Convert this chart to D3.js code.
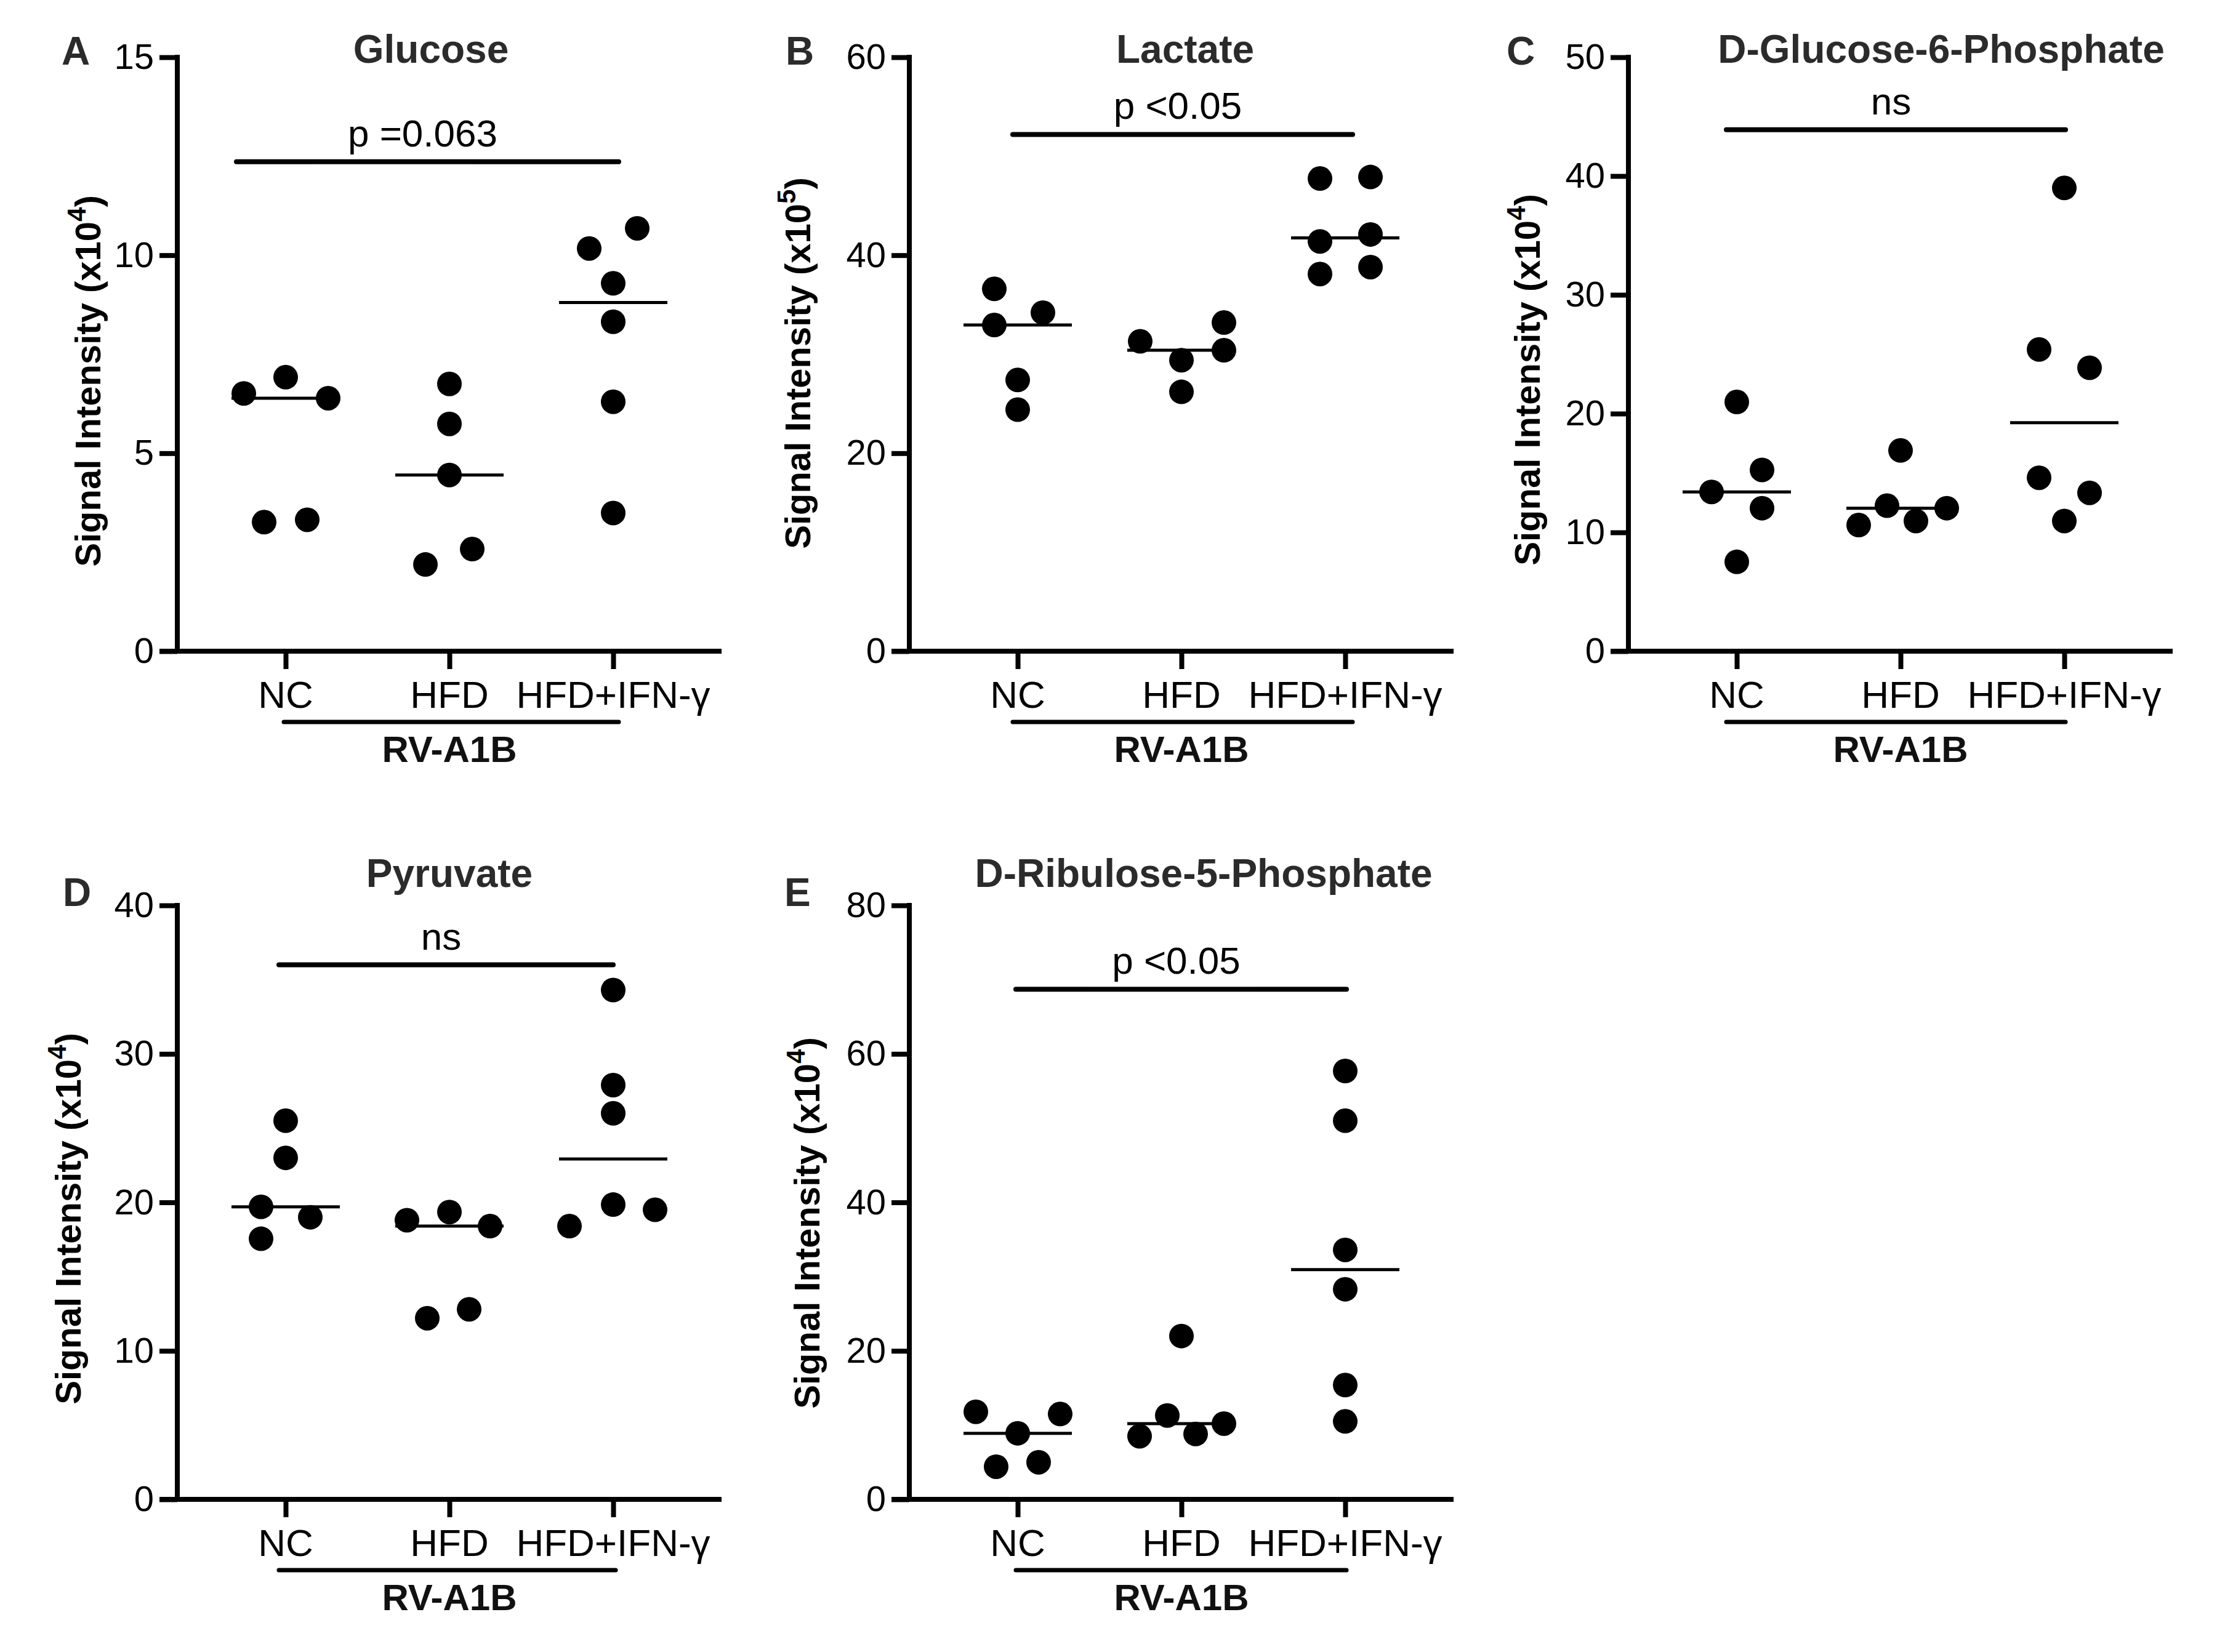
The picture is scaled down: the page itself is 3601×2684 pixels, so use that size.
<!DOCTYPE html>
<html lang="en">
<head>
	<meta charset="utf-8">
	<script src="https://d3js.org/d3.v7.min.js"></script>
	<style>
		body { margin: 0; background: #fff; }
		text { font-family: "Liberation Sans", Arial, sans-serif; }
	</style>
</head>
<body>
	<script type="text/javascript">

		var svgWidth = 3601;
		var svgHeight = 2684;

		// categories and panel texts
		var groups = ["NC", "HFD", "HFD+IFN-γ"];
		var panelLetters = ["A", "B", "C", "D", "E"];
		var panelTitles = ["Glucose", "Lactate", "D-Glucose-6-Phosphate", "Pyruvate", "D-Ribulose-5-Phosphate"];
		var exponents = ["4", "5", "4", "4", "4"];
		var yMax = [15, 60, 50, 40, 80];
		var yTicks = [[0, 5, 10, 15], [0, 20, 40, 60], [0, 10, 20, 30, 40, 50], [0, 10, 20, 30, 40], [0, 20, 40, 60, 80]];
		var sigLabels = ["p =0.063", "p <0.05", "ns", "ns", "p <0.05"];
		var sigLevels = [12.36, 52.2, 43.9, 36.0, 68.7];
		var groupLabel = "RV-A1B";

		// values per group (NC, HFD, HFD+IFN-γ)
		var glucose = [
			[6.51, 6.92, 6.39, 3.26, 3.32],
			[6.75, 5.74, 4.45, 2.58, 2.19],
			[10.17, 10.68, 9.29, 8.32, 6.30, 3.49]
		];
		var lactate = [
			[36.6, 34.2, 32.95, 27.4, 24.4],
			[31.3, 29.4, 33.2, 30.4, 26.2],
			[47.75, 47.9, 41.4, 42.1, 38.1, 38.8]
		];
		var g6p = [
			[20.98, 15.26, 13.41, 12.04, 7.52],
			[16.9, 12.25, 12.04, 10.62, 10.96],
			[39.0, 25.4, 23.86, 14.6, 13.33, 10.96]
		];
		var pyruvate = [
			[25.5, 23.0, 19.7, 19.0, 17.55],
			[19.35, 18.8, 18.4, 12.2, 12.8],
			[34.3, 27.9, 26.0, 19.85, 19.5, 18.4]
		];
		var ribulose = [
			[11.8, 11.5, 8.9, 4.4, 5.0],
			[22.0, 11.3, 10.2, 8.5, 8.8],
			[57.7, 51.0, 33.6, 28.3, 15.4, 10.5]
		];
		var allData = [glucose, lactate, g6p, pyruvate, ribulose];

		// horizontal scatter of the dots (pixels from the group tick)
		var jitter = [
			[[-68, 0, 69, -35, 35], [0, 0, 0, 37, -39], [-39, 39, 0, 0, 0, 0]],
			[[-38, 41, -38, 0, 0], [-67, 0, 69, 69, 0], [-41, 41, -41, 41, -41, 41]],
			[[0, 41, -41, 41, 0], [0, -22, 75, -68, 25], [0, -41, 41, -41, 41, 0]],
			[[0, 0, -40, 40, -40], [0, -69, 66, -36, 32], [0, 0, 0, 0, 68, -71]],
			[[-68, 69, 0, -35, 34], [0, -23, 69, -68, 23], [0, 0, 0, 0, 0, 0]]
		];

		// panel placement
		var layout = [
			{ax: 288, top: 93, letterX: 100, letterY: 105, titleX: 700, titleY: 102, labelX: 143, labelY: 619, sig: [-80, 9], under: [-3, 9]},
			{ax: 1477, top: 93, letterX: 1276, letterY: 105, titleX: 1925, titleY: 102, labelX: 1296, labelY: 590, sig: [-8, 12], under: [-8, 12]},
			{ax: 2645, top: 93, letterX: 2447, letterY: 105, titleX: 3153, titleY: 102, labelX: 2481, labelY: 617, sig: [-17, 2], under: [-17, 2]},
			{ax: 288, top: 1471, letterX: 102, letterY: 1472, titleX: 730, titleY: 1441, labelX: 111, labelY: 1980, sig: [-11, 0], under: [-11, 4]},
			{ax: 1477, top: 1471, letterX: 1274, letterY: 1472, titleX: 1955, titleY: 1441, labelX: 1311, labelY: 1987, sig: [-3, 2], under: [-3, 2]}
		];

		var plotHeight = 965;
		var axisLength = 884;
		var dotRadius = 20;

		var svg = d3.select("body")
			.append("svg")
			.attr("width", svgWidth)
			.attr("height", svgHeight);

		svg.append("rect")
			.attr("width", svgWidth)
			.attr("height", svgHeight)
			.attr("fill", "#fff");

		allData.forEach(function(data, p) {
			var L = layout[p];
			var bottom = L.top + plotHeight;

			var y = d3.scaleLinear()
				.domain([0, yMax[p]])
				.range([bottom, L.top]);

			var x = d3.scalePoint()
				.domain(groups)
				.range([L.ax + 176, L.ax + 708]);

			var g = svg.append("g");

			//y axis
			var yAxis = g.append("g")
				.attr("transform", "translate(" + L.ax + ",0)")
				.call(d3.axisLeft(y).tickValues(yTicks[p]).tickSize(29).tickPadding(9).tickSizeOuter(0));
			yAxis.select(".domain").attr("stroke", "#000").attr("stroke-width", 8)
				.attr("d", "M0," + (L.top - 4) + "V" + bottom);
			yAxis.selectAll(".tick line").attr("stroke", "#000").attr("stroke-width", 8);
			yAxis.selectAll(".tick text")
				.attr("font-size", 58)
				.attr("fill", "#000");

			//x axis
			var xAxis = g.append("g")
				.attr("transform", "translate(0," + bottom + ")")
				.call(d3.axisBottom(x).tickSize(29).tickSizeOuter(0));
			xAxis.select(".domain").attr("stroke", "#000").attr("stroke-width", 8)
				.attr("d", "M" + (L.ax - 29) + ",0H" + (L.ax + axisLength));
			xAxis.selectAll(".tick line").attr("stroke", "#000").attr("stroke-width", 8);
			xAxis.selectAll(".tick text").remove();

			g.selectAll(".xlab")
				.data(groups)
				.enter()
				.append("text")
					.attr("x", function(d) { return x(d); })
					.attr("y", bottom + 92)
					.attr("text-anchor", "middle")
					.attr("font-size", 62)
					.text(function(d) { return d; });

			//group underline and label
			g.append("line")
				.attr("x1", x(groups[0]) + L.under[0])
				.attr("x2", x(groups[2]) + L.under[1])
				.attr("y1", bottom + 115)
				.attr("y2", bottom + 115)
				.attr("stroke", "#000")
				.attr("stroke-width", 7)
				.attr("stroke-linecap", "round");

			g.append("text")
				.attr("x", x(groups[1]))
				.attr("y", bottom + 180)
				.attr("text-anchor", "middle")
				.attr("font-size", 60)
				.attr("font-weight", "bold")
				.attr("fill", "#111")
				.text(groupLabel);

			//y label
			var ylab = g.append("text")
				.attr("transform", "translate(" + L.labelX + "," + L.labelY + ") rotate(-90)")
				.attr("text-anchor", "middle")
				.attr("dy", "0.35em")
				.attr("font-size", 58)
				.attr("font-weight", "bold")
				.attr("fill", "#000");
			ylab.append("tspan").text("Signal Intensity (x10");
			ylab.append("tspan").attr("dy", -24).attr("font-size", 42).text(exponents[p]);
			ylab.append("tspan").attr("dy", 24).text(")");

			//title and letter
			g.append("text")
				.attr("x", L.titleX)
				.attr("y", L.titleY)
				.attr("text-anchor", "middle")
				.attr("font-size", 64)
				.attr("font-weight", "bold")
				.attr("fill", "#2b2b2b")
				.text(panelTitles[p]);

			g.append("text")
				.attr("x", L.letterX)
				.attr("y", L.letterY)
				.attr("font-size", 64)
				.attr("font-weight", "bold")
				.attr("fill", "#2b2b2b")
				.text(panelLetters[p]);

			//significance bar
			g.append("line")
				.attr("x1", x(groups[0]) + L.sig[0])
				.attr("x2", x(groups[2]) + L.sig[1])
				.attr("y1", y(sigLevels[p]))
				.attr("y2", y(sigLevels[p]))
				.attr("stroke", "#000")
				.attr("stroke-width", 8)
				.attr("stroke-linecap", "round");

			g.append("text")
				.attr("x", (x(groups[0]) + L.sig[0] + x(groups[2]) + L.sig[1]) / 2 - 8)
				.attr("y", y(sigLevels[p]) - 25)
				.attr("text-anchor", "middle")
				.attr("font-size", 62)
				.attr("fill", "#000")
				.text(sigLabels[p]);

			//points and median lines
			data.forEach(function(vals, gi) {
				var cat = groups[gi];
				g.selectAll(".pt" + gi)
					.data(vals)
					.enter()
					.append("circle")
						.attr("cx", function(d, i) { return x(cat) + jitter[p][gi][i]; })
						.attr("cy", function(d) { return y(d); })
						.attr("r", dotRadius)
						.attr("fill", "#000");

				var med = d3.median(vals);
				g.append("line")
					.attr("x1", x(cat) - 88)
					.attr("x2", x(cat) + 88)
					.attr("y1", y(med))
					.attr("y2", y(med))
					.attr("stroke", "#000")
					.attr("stroke-width", 5);
			});
		});

	</script>
</body>
</html>
